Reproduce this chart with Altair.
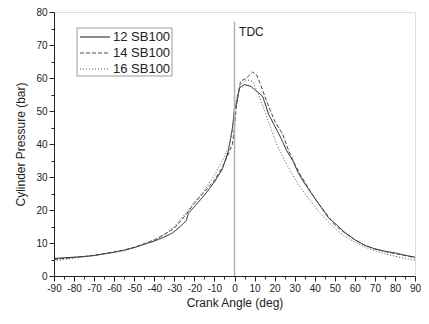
import altair as alt
import pandas as pd

# 12 SB100 (solid)
a12 = [-90, -85, -80, -75, -70, -65, -60, -55, -50, -45, -40, -35, -31, -27, -24, -23, -20, -15, -10, -6, -3, -1, 0, 1, 2.5, 5, 8, 11, 14, 17, 20, 23, 26, 29, 32, 35, 39, 43, 47, 51, 55, 60, 65, 70, 75, 80, 85, 90]
p12 = [5.3, 5.5, 5.7, 5.9, 6.2, 6.7, 7.2, 7.8, 8.6, 9.6, 10.6, 11.8, 13.0, 15.0, 16.8, 19.0, 21.0, 24.5, 28.5, 32.5, 38.0, 45.0, 50.5, 52.0, 57.0, 58.0, 57.5, 56.0, 54.5, 49.0, 45.5, 42.0, 38.0, 35.0, 31.0, 28.0, 24.5, 21.0, 17.5, 15.5, 13.2, 11.0, 9.3, 8.2, 7.5, 7.0, 6.3, 5.7]

# 14 SB100 (dashed)
a14 = [-90, -85, -80, -75, -70, -65, -60, -55, -50, -45, -40, -35, -30, -25, -20, -15, -10, -6, -3, -1, 0, 1, 3, 6, 9, 11, 13, 16, 20, 24, 27, 30, 33, 36, 40, 45, 50, 55, 60, 65, 70, 75, 80, 85, 90]
p14 = [5.0, 5.3, 5.6, 5.9, 6.3, 6.8, 7.3, 7.9, 8.7, 9.8, 10.9, 12.5, 14.5, 18.0, 22.0, 25.5, 29.0, 33.0, 37.0, 40.0, 45.0, 52.0, 59.0, 60.0, 61.8, 61.0, 58.0, 53.0, 47.0, 43.0, 38.0, 34.0, 30.5, 27.5, 23.5, 19.5, 15.5, 13.0, 11.0, 9.3, 8.2, 7.4, 6.8, 6.2, 5.5]

# 16 SB100 (dotted)
a16 = [-90, -85, -80, -75, -70, -65, -60, -55, -50, -45, -40, -35, -30, -25, -20, -15, -10, -6, -3, -1, 0, 1, 3, 6, 9, 12, 15, 18, 21, 25, 30, 35, 40, 45, 50, 55, 60, 65, 70, 75, 80, 85, 90]
p16 = [4.6, 5.0, 5.4, 5.8, 6.2, 6.7, 7.2, 7.8, 8.6, 9.7, 11.0, 12.7, 15.0, 18.5, 22.5, 26.0, 30.5, 35.0, 39.0, 44.0, 50.0, 54.0, 58.0, 59.5, 59.0, 55.0, 50.0, 45.0, 40.0, 35.0, 29.5, 25.0, 21.0, 17.5, 14.5, 12.0, 10.3, 8.8, 7.6, 6.7, 6.0, 5.3, 4.8]

series_names = ["12 SB100", "14 SB100", "16 SB100"]
series_colors = ["#1a1a1a", "#4a4a4a", "#555555"]
series_dashes = [[1, 0], [4, 2], [1, 2]]
x_major = list(range(-90, 91, 10))
x_minor = list(range(-85, 90, 10))
y_major = list(range(0, 81, 10))
y_minor = list(range(5, 80, 10))

rows = []
for name, aa, pp in zip(series_names, [a12, a14, a16], [p12, p14, p16]):
    for i, (x, y) in enumerate(zip(aa, pp)):
        rows.append({"angle": x, "pressure": y, "series": name, "order": i})
df = pd.DataFrame(rows)

FONT = "Liberation Sans"
INK = "#222222"
xs = alt.Scale(domain=[-90, 90], nice=False, zero=False)
ys = alt.Scale(domain=[0, 80], nice=False, zero=False)
cscale = alt.Scale(domain=series_names, range=series_colors)
dscale = alt.Scale(domain=series_names, range=series_dashes)

axis_common = dict(labelFontSize=10, titleFontSize=12, labelPadding=2, grid=False,
                   domainColor=INK, tickColor=INK, labelColor=INK, titleColor=INK,
                   labelFont=FONT, titleFont=FONT, titleFontWeight="normal", labelFlush=False,
                   labelExpr="datum.value < 0 ? '-' + abs(datum.value) : '' + datum.value")

lines = alt.Chart(df).mark_line(strokeWidth=1).encode(
    x=alt.X("angle:Q", scale=xs, title="Crank Angle (deg)",
            axis=alt.Axis(values=x_major, orient="bottom", tickSize=5, titlePadding=4, **axis_common)),
    y=alt.Y("pressure:Q", scale=ys, title="Cylinder Pressure (bar)",
            axis=alt.Axis(values=y_major, orient="left", tickSize=5, titlePadding=8, **axis_common)),
    color=alt.Color("series:N", scale=cscale, legend=None),
    strokeDash=alt.StrokeDash("series:N", scale=dscale, legend=None),
    detail="series:N",
    order="order:Q",
)

minor_x = alt.Chart(pd.DataFrame({"x": x_minor})).mark_point(opacity=0).encode(
    x=alt.X("x:Q", scale=xs, axis=alt.Axis(values=x_minor, orient="bottom", tickSize=3, labels=False,
                                            domain=False, grid=False, title=None, tickColor=INK)),
)
minor_y = alt.Chart(pd.DataFrame({"y": y_minor})).mark_point(opacity=0).encode(
    y=alt.Y("y:Q", scale=ys, axis=alt.Axis(values=y_minor, orient="left", tickSize=3, labels=False,
                                            domain=False, grid=False, title=None, tickColor=INK)),
)

tdc = alt.Chart(pd.DataFrame({"x": [0], "y": [0], "y2": [77]})).mark_rule(color="#b0b0b0", strokeWidth=1.5).encode(
    x=alt.X("x:Q", scale=xs, axis=None), y=alt.Y("y:Q", scale=ys, axis=None), y2="y2:Q")

tdc_text = alt.Chart(pd.DataFrame({"x": [2.3], "y": [74], "t": ["TDC"]})).mark_text(
    align="left", baseline="middle", fontSize=12, font=FONT, color=INK).encode(
    x=alt.X("x:Q", scale=xs, axis=None), y=alt.Y("y:Q", scale=ys, axis=None), text="t:N")

# Legend (drawn as marks, positioned in pixels inside the plot area)
LX, LY = 23, 16
leg_box = alt.Chart(pd.DataFrame({"a": [0]})).mark_rect(fill="white", stroke="#9a9a9a", strokeWidth=1).encode(
    x=alt.value(LX), x2=alt.value(LX + 95), y=alt.value(LY), y2=alt.value(LY + 48))
leg_layers = [leg_box]
for i, name in enumerate(series_names):
    yy = LY + 9 + 16 * i
    leg_layers.append(
        alt.Chart(pd.DataFrame({"series": [name]})).mark_rule(strokeWidth=1).encode(
            x=alt.value(LX + 3), x2=alt.value(LX + 33), y=alt.value(yy),
            color=alt.Color("series:N", scale=cscale, legend=None),
            strokeDash=alt.StrokeDash("series:N", scale=dscale, legend=None)))
    leg_layers.append(
        alt.Chart(pd.DataFrame({"series": [name]})).mark_text(
            align="left", baseline="middle", fontSize=13, font=FONT, color=INK).encode(
            x=alt.value(LX + 36), y=alt.value(yy), text="series:N"))

chart = alt.layer(lines, minor_x, minor_y, tdc, tdc_text, *leg_layers).resolve_axis(
    x="independent", y="independent").properties(
    width=361, height=264,
    autosize=alt.AutoSizeParams(type="none"),
    padding={"left": 46, "top": 4, "right": 6, "bottom": 40},
).configure_view(stroke=None).configure(background="white")

chart.save("out.html", embed_options={"renderer": "svg", "actions": False})
